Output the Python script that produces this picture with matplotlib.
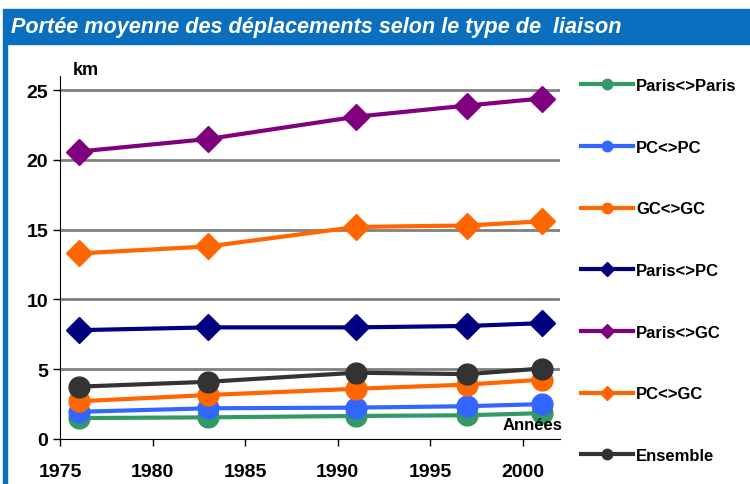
import matplotlib
matplotlib.use("Agg")
import matplotlib.pyplot as plt
from matplotlib.patches import Rectangle

plt.rcParams['font.family'] = ['Liberation Sans', 'DejaVu Sans']

# === Data ===
years = [1976, 1983, 1991, 1997, 2001]
series_names = ["Paris<>Paris", "PC<>PC", "GC<>GC", "Paris<>PC",
                "Paris<>GC", "PC<>GC", "Ensemble"]
paris_paris = [1.5, 1.55, 1.65, 1.7, 1.85]
pc_pc = [1.95, 2.2, 2.25, 2.35, 2.5]
gc_gc = [2.7, 3.15, 3.6, 3.9, 4.25]
paris_pc = [7.8, 8.0, 8.0, 8.1, 8.3]
paris_gc = [20.6, 21.5, 23.1, 23.9, 24.4]
pc_gc = [13.3, 13.8, 15.2, 15.3, 15.6]
ensemble = [3.75, 4.1, 4.75, 4.65, 5.05]

series = [paris_paris, pc_pc, gc_gc, paris_pc, paris_gc, pc_gc, ensemble]
colors = ["#339966", "#3366FF", "#FF6600", "#000080", "#800080", "#FF6600", "#333333"]
markers = ["o", "o", "o", "D", "D", "D", "o"]

# === Figure ===
fig = plt.figure(figsize=(7.5, 4.85), dpi=100)

# Title bar and left strip
blue = "#0A6FBE"
fig.patches.append(Rectangle((0.004, 0.907), 0.996, 0.073, transform=fig.transFigure,
                             color=blue, zorder=0))
fig.patches.append(Rectangle((0.004, 0.0), 0.0055, 0.91, transform=fig.transFigure,
                             color=blue, zorder=0))
fig.text(0.015, 0.943, "Portée moyenne des déplacements selon le type de  liaison",
         color="white", fontsize=15.6, fontweight="bold", fontstyle="italic",
         ha="left", va="center")

ax = fig.add_axes([0.08, 0.0928, 0.6667, 0.748])

# Plot each series
for name, vals, c, m in zip(series_names, series, colors, markers):
    ax.plot(years, vals, color=c, lw=3, marker=m,
            markersize=15 if m == "o" else 13, label=name)

ax.set_xlim(1975, 2002)
ax.set_ylim(0, 26)
ax.set_xticks([1975, 1980, 1985, 1990, 1995, 2000])
ax.set_yticks([0, 5, 10, 15, 20, 25])
for y in [5, 10, 15, 20, 25]:
    ax.axhline(y, color="#808080", lw=2, zorder=0)

ax.spines["top"].set_visible(False)
ax.spines["right"].set_visible(False)
ax.tick_params(axis="both", direction="out", length=5, width=1, labelsize=14)
ax.tick_params(axis="x", pad=12)
for lab in ax.get_xticklabels() + ax.get_yticklabels():
    lab.set_fontweight("bold")

ax.text(0.052, 0.995, "km", transform=ax.transAxes, fontsize=13, fontweight="bold",
        ha="center", va="bottom")
ax.text(1.004, 0.018, "Années", transform=ax.transAxes, fontsize=12, fontweight="bold",
        ha="right", va="bottom")

# Legend on the right
handles = [plt.Line2D([], [], color=c, lw=3, marker=m, markersize=7.5)
           for c, m in zip(colors, markers)]
fig.legend(handles, series_names, loc="center left", bbox_to_anchor=(0.775, 0.44),
           frameon=False, borderpad=0, borderaxespad=0, handlelength=3.1,
           handletextpad=0.2, labelspacing=2.8,
           prop={"size": 12, "weight": "bold"})

fig.savefig("out.png", dpi=100)
